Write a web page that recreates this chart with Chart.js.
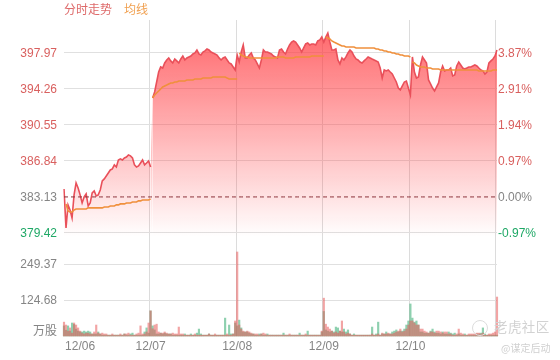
<!DOCTYPE html>
<html><head><meta charset="utf-8">
<script src="https://cdn.jsdelivr.net/npm/chart.js@4/dist/chart.umd.min.js"></script>
<style>
html,body{margin:0;padding:0;background:#fff}
#wrap{position:relative;width:560px;height:360px;overflow:hidden}
canvas{position:absolute;left:0;top:0}
.t{position:absolute;white-space:nowrap;font-family:"Noto Sans CJK SC",sans-serif;line-height:1}
</style></head><body>
<div id="wrap">
<canvas id="c" width="560" height="360"></canvas>
<div class="t" style="left:64px;top:3px;font-size:12px;color:#de6a6a">分时走势</div>
<div class="t" style="left:124px;top:3px;font-size:12px;color:#f0a050">均线</div>
<div class="t" style="left:494px;top:320px;font-size:13.5px;color:#d2d2d2;letter-spacing:.4px">老虎社区</div>
<div class="t" style="left:501px;top:343px;font-size:10px;color:#d0d0d0">@谋定后动</div>
<div style="position:absolute;left:472px;top:320px;width:14px;height:14px;border:1.5px solid #dcdcdc;border-radius:50%"></div>
</div>
<script>
const priceDay1=[383.95,379.94,382.31,381.79,380.97,383.34,384.57,384.06,383.34,382.51,383.13,383.44,382.20,382.51,383.54,383.75,383.23,383.34,383.85,384.78,384.99,385.29,385.60,385.91,386.02,386.43,386.22,386.94,387.05,386.94,387.15,387.25,387.46,387.36,387.15,386.43,386.22,386.32,386.63,386.94,386.43,386.63,386.84,386.22];
const priceDay2=[393.33,393.95,394.98,396.01,396.53,396.42,396.94,397.25,397.46,397.15,396.94,397.35,397.15,396.94,397.35,397.66,397.25,397.46,397.56,397.66,397.87,397.97,398.28,397.87,397.76,398.07,398.18,398.38,398.28,398.07,397.97,397.87,397.76,397.46,397.25,397.46,397.56,397.25,396.94,396.84,396.53,396.22,397.76];
const priceDay3=[397.04,398.07,398.80,397.46,397.46,397.76,397.97,397.46,397.25,396.84,396.42,397.25,398.28,398.07,398.07,397.97,397.87,397.66,397.56,397.46,398.28,398.38,398.07,397.87,398.38,398.80,399.10,399.21,399.10,398.80,398.49,398.07,398.49,398.90,399.00,398.80,398.90,398.90,398.80,399.21,399.31,399.62,399.10];
const priceDay4=[399.62,400.03,399.10,398.28,398.28,398.38,397.25,396.84,397.46,397.25,397.56,397.97,398.28,398.07,397.66,397.35,397.25,397.04,396.94,397.15,397.35,397.56,397.46,397.35,397.25,397.15,397.04,396.42,395.39,396.22,396.12,396.22,396.01,395.81,395.39,394.98,394.36,394.16,394.57,394.98,395.08,394.36,393.64];
const priceDay5=[397.56,396.01,395.39,395.50,396.73,397.56,397.25,396.94,395.19,394.78,394.36,394.05,394.47,394.88,396.01,396.63,396.12,396.22,396.22,396.42,395.60,395.70,396.63,397.04,396.73,396.42,396.32,396.42,396.53,396.53,396.63,396.73,396.63,396.42,396.22,396.12,395.81,396.01,396.94,397.15,397.35,397.66,398.28];

const avgDay1=[383.85,382.41,381.69,381.58,381.58,381.79,381.89,381.89,381.89,381.89,381.89,381.89,382.00,382.00,382.00,382.00,382.00,382.00,382.00,382.00,382.10,382.10,382.10,382.20,382.20,382.20,382.31,382.31,382.41,382.41,382.41,382.51,382.51,382.51,382.61,382.61,382.61,382.72,382.72,382.82,382.82,382.82,382.82,382.92];
const avgDay2=[393.33,393.64,393.85,394.05,394.26,394.47,394.57,394.67,394.78,394.88,394.88,394.98,394.98,395.08,395.08,395.08,395.08,395.19,395.19,395.19,395.19,395.29,395.29,395.29,395.29,395.39,395.39,395.39,395.39,395.39,395.50,395.50,395.50,395.50,395.50,395.50,395.50,395.39,395.29,395.29,395.29,395.29,395.29];
const avgDay3=[397.97,397.76,397.66,397.56,397.56,397.46,397.46,397.46,397.46,397.46,397.46,397.46,397.46,397.46,397.46,397.46,397.46,397.46,397.46,397.56,397.56,397.56,397.56,397.46,397.46,397.46,397.46,397.46,397.56,397.56,397.56,397.56,397.56,397.56,397.56,397.56,397.66,397.66,397.66,397.66,397.66,397.66,397.66];
const avgDay4=[399.62,399.52,399.41,399.21,399.10,399.00,398.90,398.80,398.69,398.69,398.59,398.59,398.59,398.59,398.59,398.49,398.49,398.49,398.49,398.49,398.49,398.49,398.49,398.49,398.49,398.38,398.38,398.28,398.28,398.18,398.18,398.07,398.07,397.97,397.97,397.87,397.87,397.76,397.76,397.66,397.66,397.66,397.56];
const avgDay5=[397.04,396.94,396.73,396.63,396.53,396.53,396.53,396.42,396.42,396.42,396.32,396.32,396.32,396.32,396.22,396.22,396.22,396.22,396.22,396.22,396.22,396.22,396.22,396.22,396.22,396.22,396.22,396.22,396.22,396.22,396.22,396.22,396.22,396.12,396.12,396.12,396.12,396.12,396.12,396.12,396.22,396.22,396.22];

const volUpDay1=[48,38,17,28,10,45,38,28,17,10,7,10,10,7,7,14,38,10,7,10,7,7,3,3,7,3,3,3,7,3,7,7,10,3,3,3,7,10,35,7,7,14,45,87];
const volUpDay2=[25,38,41,14,10,10,14,10,7,7,10,7,7,31,7,7,3,3,3,3,3,7,3,3,3,3,3,3,7,3,3,7,3,3,3,3,3,7,3,3,7,52,291];
const volUpDay3=[38,24,17,14,17,14,10,7,7,7,3,7,10,7,3,3,3,3,3,3,3,3,3,3,3,7,3,3,3,3,3,3,3,7,3,3,3,3,3,3,3,17,131];
const volUpDay4=[41,31,24,17,10,14,10,17,52,14,7,10,7,3,3,3,3,3,3,3,3,3,3,7,3,3,7,3,10,7,7,10,7,7,10,14,17,24,14,17,24,38,52];
const volUpDay5=[52,45,38,38,24,24,17,14,10,14,14,10,17,17,14,10,14,14,7,7,3,3,7,24,10,7,3,3,7,7,7,7,10,10,7,10,3,3,7,7,10,14,135];
const volDownDay1=[35,20,35,17,45,40,24,17,14,14,17,14,17,14,7,7,7,14,7,3,3,3,3,3,3,3,3,3,3,3,7,3,3,7,10,3,3,3,3,3,14,28,10,87];
const volDownDay2=[35,21,7,7,10,7,10,7,7,7,3,3,3,3,3,3,7,3,3,7,3,3,10,24,7,3,3,3,7,3,3,3,3,3,3,3,62,3,38,7,7,45,35];
const volDownDay3=[55,28,14,14,14,10,7,7,3,3,7,7,3,3,7,3,3,3,3,3,3,3,10,3,3,3,3,3,3,3,10,3,3,3,17,3,3,3,3,3,3,14,85];
const volDownDay4=[21,17,14,17,14,31,28,17,14,24,14,21,7,3,7,3,3,3,3,3,3,3,3,31,3,7,48,3,7,7,14,7,7,14,17,21,14,17,17,24,38,52,111];
const volDownDay5=[62,48,52,38,14,14,10,10,10,17,24,14,10,10,7,14,7,7,14,10,7,10,3,7,3,3,7,3,3,3,3,3,7,7,10,28,7,3,3,3,3,3,3];

const dateLabels=['12/06','12/07','12/08','12/09','12/10'];
const dateLabelSlots=[8,43,86,129,172];
const dayEdgeSlots=[0,43,86,129,172,215];
const priceTicks=[397.97,394.26,390.55,386.84,383.13,379.42];
const percentTicks=[3.87,2.91,1.94,0.97,0.00,-0.97];
const volumeTicks=[20,124.68,249.37];
const volumeUnit='万股';
const prevClose=383.13;

const prices=[...priceDay1,...priceDay2,...priceDay3,...priceDay4,...priceDay5];
const avgs=[...avgDay1,...avgDay2,...avgDay3,...avgDay4,...avgDay5];
const volUp=[...volUpDay1,...volUpDay2,...volUpDay3,...volUpDay4,...volUpDay5];
const volDown=[...volDownDay1,...volDownDay2,...volDownDay3,...volDownDay4,...volDownDay5];
const slots=prices.map((_,i)=>{const k=dateLabelSlots.indexOf(i);return k>=0?dateLabels[k]:'';});

const RED='#d9605f',GREEN='#1fa866',GRAY='#858585';
const fontFam='"Liberation Sans","Noto Sans CJK SC",sans-serif';
const priceMin=379.0,priceMax=401.37,pctMinPrice=368.81;
const toPct=p=>(p/prevClose-1)*100;
const colorBySign=v=>v>0.001?RED:(v<-0.001?GREEN:GRAY);

new Chart(document.getElementById('c'),{
  type:'bar',
  data:{labels:slots,datasets:[
    {type:'line',label:'均线',data:avgs,yAxisID:'price',borderColor:'#f0903c',borderWidth:1.6,pointRadius:0,tension:0,order:1,fill:false,
     segment:{borderColor:c=>dayEdgeSlots.includes(c.p0DataIndex)?'transparent':undefined}},
    {type:'line',label:'昨收',data:prices.map(()=>prevClose),yAxisID:'price',borderColor:'#8a3038',borderWidth:1,borderDash:[4,3],pointRadius:0,order:2,fill:false},
    {type:'line',label:'分时走势',data:prices,yAxisID:'price',borderColor:'#e9505a',borderWidth:1.6,pointRadius:0,tension:0,order:3,
     fill:{target:{value:379.0}},
     backgroundColor:c=>{const g=c.chart.ctx.createLinearGradient(0,33,0,237);g.addColorStop(0,'rgba(255,60,65,.76)');g.addColorStop(1,'rgba(255,60,65,0)');return g;},
     segment:{borderColor:c=>c.p0DataIndex===43?'transparent':undefined}},
    {label:'成交量涨',data:volUp,yAxisID:'vol',backgroundColor:'rgba(232,90,90,.55)',barThickness:1.5,grouped:false,order:4,clip:false},
    {label:'成交量跌',data:volDown,yAxisID:'vol',backgroundColor:'rgba(50,170,110,.55)',barThickness:1.5,grouped:false,order:5,clip:false}
  ]},
  options:{
    responsive:false,animation:false,
    layout:{padding:{top:20,left:0,right:0,bottom:0}},
    plugins:{legend:{display:false},tooltip:{enabled:false}},
    scales:{
      x:{type:'category',offset:false,
        grid:{drawTicks:false,color:c=>dayEdgeSlots.includes(c.index)?'#dcdcdc':'transparent',lineWidth:1},
        border:{display:false},
        afterFit:s=>{s.height=24;s.paddingLeft=0;s.paddingRight=0;},
        ticks:{autoSkip:false,maxRotation:0,minRotation:0,padding:3,color:GRAY,font:{family:fontFam,size:12}}},
      price:{position:'left',stack:'left',stackWeight:217,weight:1,min:priceMin,max:priceMax,
        afterBuildTicks:s=>{s.ticks=priceTicks.map(v=>({value:v}));},
        afterFit:s=>{s.width=64;},
        grid:{drawTicks:false,color:c=>c.tick&&c.tick.value===prevClose?'transparent':'#e0e0e0'},
        border:{display:false},
        ticks:{autoSkip:false,padding:7,labelOffset:1,font:{family:fontFam,size:12},
          callback:v=>v.toFixed(2),
          color:c=>colorBySign(c.tick.value-prevClose)}},
      vol:{position:'left',stack:'left',stackWeight:99,weight:0,min:0,max:342.9,
        afterBuildTicks:s=>{s.ticks=volumeTicks.map(v=>({value:v}));},
        afterFit:s=>{s.width=64;},
        grid:{drawTicks:false,color:c=>c.tick&&c.tick.value===volumeTicks[0]?'transparent':'#e0e0e0'},
        border:{display:false},
        ticks:{autoSkip:false,padding:7,labelOffset:1,color:GRAY,font:{family:fontFam,size:12},
          callback:v=>v===volumeTicks[0]?volumeUnit:v.toFixed(2)}},
      pct:{position:'right',min:toPct(pctMinPrice),max:toPct(priceMax),
        afterBuildTicks:s=>{s.ticks=percentTicks.map(v=>({value:v}));},
        afterFit:s=>{s.width=63;},
        grid:{display:false,drawTicks:false},
        border:{display:false},
        ticks:{autoSkip:false,padding:1,labelOffset:1,font:{family:fontFam,size:12},
          callback:v=>v.toFixed(2)+'%',
          color:c=>colorBySign(c.tick.value)}}
    }
  }
});
</script>
</body></html>
